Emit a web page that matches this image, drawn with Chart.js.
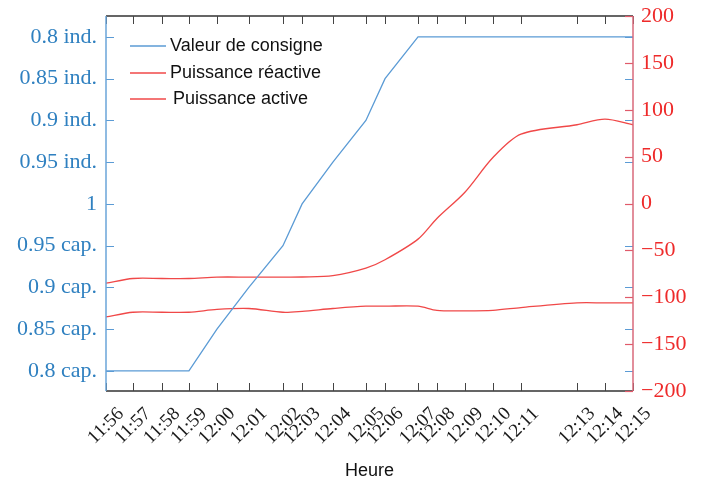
<!DOCTYPE html>
<html><head><meta charset="utf-8">
<script src="https://cdn.jsdelivr.net/npm/chart.js@4"></script>
<style>html,body{margin:0;padding:0;background:#fff}canvas{display:block}</style>
</head><body>
<canvas id="c" width="705" height="481"></canvas>
<script>
// ---- data ----
const timeLabels = ['11:56','11:57','11:58','11:59','12:00','12:01','12:02','12:03','12:04','12:05','12:06','12:07','12:08','12:09','12:10','12:11','12:13','12:14','12:15'];
const elapsedMinutes = [0,0.97,2.02,2.99,4.0,5.15,6.38,7.07,8.18,9.37,10.06,11.25,11.93,12.94,13.95,14.96,16.98,17.99,19.0];
const pfLabels = ['0.8 cap.','0.85 cap.','0.9 cap.','0.95 cap.','1','0.95 ind.','0.9 ind.','0.85 ind.','0.8 ind.'];
const consigne = [0,0,0,0,1,2,3,4,5,6,7,8,8,8,8,8,8,8,8];
const reactive = [-85,-80,-80,-80,-78.5,-78.5,-78.5,-78.4,-77,-69,-60,-38,-16,12,49,74,84,90,84];
const active = [-121,-116,-116,-116,-113,-112,-116,-115,-112,-109.5,-109.5,-109.5,-114,-114.5,-114,-111,-106,-106,-106];
const rightTicks = [-200,-150,-100,-50,0,50,100,150,200];
const seriesNames = ['Valeur de consigne','Puissance réactive','Puissance active'];

const BLUE = '#5b9bd5', RED = '#f04848';
const BLUE_TXT = '#2f80c0', RED_TXT = '#ee2a2a';

function pts(ys){ return ys.map((y,i)=>({x:elapsedMinutes[i], y})); }

const deco = {
  id:'deco',
  afterDraw(chart){
    const ctx = chart.ctx, a = chart.chartArea;
    const xs = chart.scales.x, yl = chart.scales.yL, yr = chart.scales.yR;
    ctx.save();
    // top & bottom borders
    ctx.strokeStyle = '#333'; ctx.lineWidth = 1.5;
    ctx.beginPath(); ctx.moveTo(a.left, a.top); ctx.lineTo(a.right, a.top);
    ctx.moveTo(a.left, a.bottom); ctx.lineTo(a.right, a.bottom); ctx.stroke();
    // x ticks (top & bottom, inward)
    ctx.strokeStyle = '#444'; ctx.lineWidth = 1;
    elapsedMinutes.forEach(v=>{
      const px = Math.round(xs.getPixelForValue(v))+0.5;
      ctx.beginPath();
      ctx.moveTo(px, a.top); ctx.lineTo(px, a.top+8);
      ctx.moveTo(px, a.bottom); ctx.lineTo(px, a.bottom-8);
      ctx.stroke();
    });
    // left axis ticks + mirrored on right
    ctx.strokeStyle = BLUE; ctx.lineWidth = 1.2;
    pfLabels.forEach((l,i)=>{
      const py = Math.round(yl.getPixelForValue(i))+0.5;
      ctx.beginPath();
      ctx.moveTo(a.left, py); ctx.lineTo(a.left+8, py);
      ctx.moveTo(a.right, py); ctx.lineTo(a.right-8, py);
      ctx.stroke();
    });
    // right axis ticks
    ctx.strokeStyle = '#e05a6a';
    rightTicks.forEach(v=>{
      const py = Math.round(yr.getPixelForValue(v))+0.5;
      ctx.beginPath(); ctx.moveTo(a.right, py); ctx.lineTo(a.right-8, py); ctx.stroke();
    });
    // axis lines
    ctx.lineWidth = 1.5;
    ctx.strokeStyle = '#6aa4d8';
    ctx.beginPath(); ctx.moveTo(a.left, a.top); ctx.lineTo(a.left, a.bottom); ctx.stroke();
    ctx.strokeStyle = '#d8687a';
    ctx.beginPath(); ctx.moveTo(a.right, a.top); ctx.lineTo(a.right, a.bottom); ctx.stroke();
    // x tick labels, rotated 45 deg, centered on tick
    ctx.fillStyle = '#1a1a1a';
    ctx.font = '19px "Liberation Serif"';
    ctx.textAlign = 'center'; ctx.textBaseline = 'middle';
    timeLabels.forEach((t,i)=>{
      const px = xs.getPixelForValue(elapsedMinutes[i]);
      ctx.save(); ctx.translate(px, a.bottom+35); ctx.rotate(-Math.PI/4);
      ctx.fillText(t, 0, 0); ctx.restore();
    });
    // legend
    ctx.font = '18px "Liberation Sans"';
    ctx.textAlign = 'left'; ctx.textBaseline = 'middle';
    const ly = [46, 73, 99], lx = [170,170,173];
    chart.data.datasets.forEach((ds,i)=>{
      ctx.strokeStyle = ds.borderColor; ctx.lineWidth = 1.3;
      ctx.beginPath(); ctx.moveTo(130, ly[i]); ctx.lineTo(166, ly[i]); ctx.stroke();
      ctx.fillStyle = '#111';
      ctx.fillText(seriesNames[i], lx[i], ly[i]);
    });
    ctx.restore();
  }
};

new Chart(document.getElementById('c'), {
  type:'line',
  data:{ datasets:[
    {label:seriesNames[0], data:pts(consigne), yAxisID:'yL', borderColor:BLUE, borderWidth:1.3, pointRadius:0, tension:0},
    {label:seriesNames[1], data:pts(reactive), yAxisID:'yR', borderColor:RED, borderWidth:1.3, pointRadius:0, tension:0.3},
    {label:seriesNames[2], data:pts(active), yAxisID:'yR', borderColor:RED, borderWidth:1.3, pointRadius:0, tension:0.3}
  ]},
  options:{
    responsive:false, animation:false, devicePixelRatio:1,
    layout:{padding:{top:16, left:0, right:0, bottom:0}},
    plugins:{legend:{display:false}, tooltip:{enabled:false}},
    scales:{
      x:{type:'linear', min:0, max:19,
        grid:{display:false}, border:{display:false},
        ticks:{display:false},
        title:{display:true, text:'Heure', color:'#111', font:{family:'"Liberation Sans"', size:18, lineHeight:1}, padding:{top:0,bottom:1}},
        afterFit(s){ s.height = 90; s.paddingLeft = 0; s.paddingRight = 0; }
      },
      yL:{type:'linear', position:'left', min:-0.48, max:8.5,
        grid:{display:false, drawTicks:false}, border:{display:false},
        afterBuildTicks(s){ s.ticks = pfLabels.map((l,i)=>({value:i})); },
        ticks:{color:BLUE_TXT, padding:9, font:{family:'"Liberation Serif"', size:22},
          callback:(v)=>pfLabels[v]},
        afterFit(s){ s.width = 106; s.paddingTop = 0; s.paddingBottom = 0; }
      },
      yR:{type:'linear', position:'right', min:-200, max:200,
        grid:{display:false, drawTicks:false}, border:{display:false},
        afterBuildTicks(s){ s.ticks = rightTicks.map(v=>({value:v})); },
        ticks:{color:RED_TXT, padding:8, font:{family:'"Liberation Serif"', size:22},
          callback:(v)=> v<0 ? '\u2212'+Math.abs(v) : String(v)},
        afterFit(s){ s.width = 72; s.paddingTop = 0; s.paddingBottom = 0; }
      }
    }
  },
  plugins:[deco]
});
</script>
</body></html>
